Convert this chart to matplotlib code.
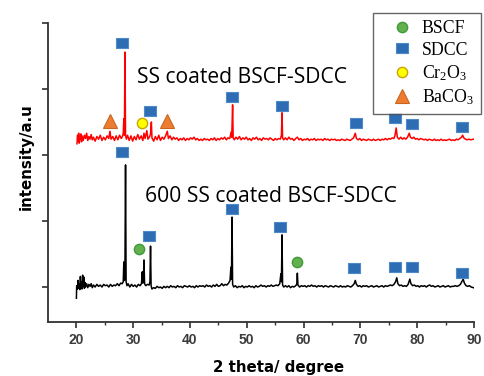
import matplotlib
matplotlib.use("Agg")
import matplotlib.pyplot as plt
from matplotlib.lines import Line2D
from matplotlib.path import Path

plt.rcParams['mathtext.fontset'] = 'custom'
plt.rcParams['mathtext.rm'] = 'Liberation Serif'
plt.rcParams['mathtext.it'] = 'Liberation Serif'

# ---------------- data ----------------
black_2theta = [20.0, 20.05, 20.2, 20.3, 20.4, 20.5, 20.6, 20.7, 20.8, 20.9, 21.0, 21.1, 21.2, 21.3, 21.4, 21.5,
                21.6, 21.8, 22.0, 22.2, 22.4, 22.6, 22.8, 23.0, 23.3, 23.6, 23.9, 24.2, 24.5, 24.8, 25.1, 25.4,
                25.7, 26.0, 26.3, 26.6, 26.9, 27.2, 27.5, 27.8, 28.05, 28.25, 28.35, 28.45, 28.55, 28.65, 28.75,
                28.9, 29.1, 29.4, 29.7, 30.0, 30.3, 30.6, 30.9, 31.2, 31.45, 31.6, 31.7, 31.8, 31.9, 32.0, 32.2,
                32.5, 32.8, 32.95, 33.05, 33.15, 33.3, 33.6, 33.9, 34.2, 34.5, 34.8, 35.1, 35.4, 35.7, 36.0,
                36.3, 36.6, 36.9, 37.2, 37.5, 37.8, 38.1, 38.4, 38.7, 39.0, 39.3, 39.6, 39.9, 40.2, 40.5, 40.8,
                41.1, 41.4, 41.7, 42.0, 42.3, 42.6, 42.9, 43.2, 43.5, 43.8, 44.1, 44.4, 44.7, 45.0, 45.3, 45.6,
                45.9, 46.2, 46.5, 46.8, 47.05, 47.2, 47.3, 47.4, 47.5, 47.7, 48.0, 48.3, 48.6, 48.9, 49.2, 49.5,
                49.8, 50.1, 50.4, 50.7, 51.0, 51.3, 51.6, 51.9, 52.2, 52.5, 52.8, 53.1, 53.4, 53.7, 54.0, 54.3,
                54.6, 54.9, 55.2, 55.5, 55.8, 56.0, 56.1, 56.2, 56.3, 56.5, 56.8, 57.1, 57.4, 57.7, 58.0, 58.3,
                58.6, 58.8, 58.9, 59.0, 59.3, 59.6, 59.9, 60.2, 60.5, 60.8, 61.1, 61.4, 61.7, 62.0, 62.3, 62.6,
                62.9, 63.2, 63.5, 63.8, 64.1, 64.4, 64.7, 65.0, 65.3, 65.6, 65.9, 66.2, 66.5, 66.8, 67.1, 67.4,
                67.7, 68.0, 68.3, 68.6, 68.9, 69.1, 69.3, 69.6, 69.9, 70.2, 70.5, 70.8, 71.1, 71.4, 71.7, 72.0,
                72.3, 72.6, 72.9, 73.2, 73.5, 73.8, 74.1, 74.4, 74.7, 75.0, 75.3, 75.6, 75.9, 76.2, 76.4, 76.6,
                76.9, 77.2, 77.5, 77.8, 78.1, 78.4, 78.6, 78.7, 78.9, 79.2, 79.5, 79.8, 80.1, 80.4, 80.7, 81.0,
                81.3, 81.6, 81.9, 82.2, 82.5, 82.8, 83.1, 83.4, 83.7, 84.0, 84.3, 84.6, 84.9, 85.2, 85.5, 85.8,
                86.1, 86.4, 86.7, 87.0, 87.3, 87.6, 87.9, 88.1, 88.3, 88.6, 88.9, 89.2, 89.5, 89.9]
black_intensity = [-0.17, 0.02, -0.03, 0.10, -0.02, 0.05, -0.04, 0.16, 0.00, 0.08, -0.03, 0.18, 0.01, 0.15, -0.02, 0.07,
                   0.00, 0.05, -0.01, 0.04, 0.01, 0.05, -0.01, 0.03, 0.00, 0.04, 0.01, 0.03, 0.00, 0.04, 0.02, 0.03,
                   0.00, 0.04, 0.01, 0.03, 0.02, 0.05, 0.02, 0.06, 0.05, 0.08, 0.38, 0.10, 0.30, 1.85, 0.08,
                   0.02, 0.05, 0.00, 0.04, 0.01, 0.03, 0.00, 0.04, 0.02, 0.05, 0.23, 0.06, 0.12, 0.41, 0.05, 0.02,
                   0.04, 0.03, 0.08, 0.62, 0.02, -0.03, -0.01, -0.02, 0.01, -0.01, 0.00, -0.02, 0.01, -0.01, 0.01,
                   -0.01, 0.02, 0.00, 0.01, -0.01, 0.02, 0.00, 0.01, -0.01, 0.02, 0.01, 0.00, 0.02, 0.00, 0.01, -0.01,
                   0.02, 0.00, 0.02, 0.01, 0.02, 0.00, 0.03, 0.01, 0.02, 0.00, 0.03, 0.01, 0.04, 0.01, 0.02, 0.05,
                   0.02, 0.04, 0.03, 0.06, 0.10, 0.30, 0.12, 1.06, 0.04, 0.00, 0.02, -0.01, 0.01, 0.00, 0.02, -0.01,
                   0.01, 0.00, 0.02, 0.00, 0.01, -0.01, 0.02, 0.00, 0.01, 0.03, 0.01, 0.02, 0.00, 0.02, 0.01, 0.03,
                   0.01, 0.02, 0.03, 0.02, 0.05, 0.20, 0.08, 0.79, 0.03, 0.00, 0.02, 0.00, 0.02, -0.01, 0.01, 0.00,
                   0.02, 0.04, 0.21, 0.03, 0.00, 0.02, 0.01, 0.02, 0.00, 0.02, 0.01, 0.03, 0.01, 0.02, 0.00, 0.02,
                   0.01, 0.02, 0.00, 0.02, 0.01, 0.00, 0.02, 0.01, 0.00, 0.02, 0.01, 0.00, 0.02, 0.00, 0.01, 0.00,
                   0.02, 0.01, 0.00, 0.02, 0.05, 0.10, 0.04, 0.01, 0.02, 0.00, 0.02, 0.01, 0.02, 0.00, 0.01, 0.02,
                   0.00, 0.01, 0.02, 0.00, 0.01, 0.02, 0.00, 0.02, 0.01, 0.02, 0.03, 0.02, 0.04, 0.08, 0.14, 0.05,
                   0.02, 0.03, 0.01, 0.02, 0.01, 0.04, 0.09, 0.12, 0.05, 0.02, 0.03, 0.01, 0.02, 0.00, 0.02, 0.01,
                   0.02, 0.00, 0.02, 0.03, 0.01, 0.02, 0.00, 0.01, 0.02, 0.00, 0.01, 0.02, 0.00, 0.01, 0.02, 0.00,
                   0.01, 0.01, 0.02, 0.01, 0.02, 0.04, 0.09, 0.12, 0.06, 0.02, 0.01, 0.02, 0.00, -0.01]

red_2theta = [20.1, 20.2, 20.3, 20.4, 20.5, 20.6, 20.7, 20.8, 20.9, 21.0, 21.2, 21.4, 21.6, 21.8, 22.0, 22.2,
              22.4, 22.6, 22.8, 23.0, 23.3, 23.6, 23.9, 24.2, 24.5, 24.8, 25.1, 25.4, 25.7, 25.9, 26.1, 26.4,
              26.7, 27.0, 27.3, 27.6, 27.9, 28.1, 28.25, 28.35, 28.45, 28.55, 28.65, 28.8, 29.0, 29.3, 29.6,
              29.9, 30.2, 30.5, 30.8, 31.1, 31.4, 31.7, 31.9, 32.1, 32.4, 32.6, 32.9, 33.05, 33.2, 33.3, 33.6,
              33.9, 34.2, 34.5, 34.8, 35.1, 35.4, 35.7, 36.0, 36.2, 36.5, 36.8, 37.1, 37.4, 37.7, 38.0, 38.3,
              38.6, 38.9, 39.2, 39.5, 39.8, 40.1, 40.4, 40.7, 41.0, 41.3, 41.6, 41.9, 42.2, 42.5, 42.8, 43.1,
              43.4, 43.7, 44.0, 44.3, 44.6, 44.9, 45.2, 45.5, 45.8, 46.1, 46.4, 46.7, 47.0, 47.25, 47.35, 47.5,
              47.6, 47.8, 48.1, 48.4, 48.7, 49.0, 49.3, 49.6, 49.9, 50.2, 50.5, 50.8, 51.1, 51.4, 51.7, 52.0,
              52.3, 52.6, 52.9, 53.2, 53.5, 53.8, 54.1, 54.4, 54.7, 55.0, 55.3, 55.6, 55.9, 56.1, 56.2, 56.3,
              56.5, 56.8, 57.1, 57.4, 57.7, 58.0, 58.3, 58.6, 58.9, 59.2, 59.5, 59.8, 60.1, 60.4, 60.7, 61.0,
              61.3, 61.6, 61.9, 62.2, 62.5, 62.8, 63.1, 63.4, 63.7, 64.0, 64.3, 64.6, 64.9, 65.2, 65.5, 65.8,
              66.1, 66.4, 66.7, 67.0, 67.3, 67.6, 67.9, 68.2, 68.5, 68.8, 69.1, 69.3, 69.6, 69.9, 70.2, 70.5,
              70.8, 71.1, 71.4, 71.7, 72.0, 72.3, 72.6, 72.9, 73.2, 73.5, 73.8, 74.1, 74.4, 74.7, 75.0, 75.3,
              75.6, 75.9, 76.1, 76.3, 76.5, 76.8, 77.1, 77.4, 77.7, 78.0, 78.3, 78.6, 78.8, 79.1, 79.4, 79.7,
              80.0, 80.3, 80.6, 80.9, 81.2, 81.5, 81.8, 82.1, 82.4, 82.7, 83.0, 83.3, 83.6, 83.9, 84.2, 84.5,
              84.8, 85.1, 85.4, 85.7, 86.0, 86.3, 86.6, 86.9, 87.2, 87.5, 87.8, 88.0, 88.2, 88.5, 88.8, 89.1,
              89.4, 89.9]
red_intensity = [2.17, 2.30, 2.22, 2.33, 2.18, 2.28, 2.24, 2.32, 2.20, 2.29, 2.22, 2.30, 2.25, 2.33, 2.22, 2.28,
                 2.24, 2.31, 2.23, 2.27, 2.21, 2.28, 2.24, 2.30, 2.22, 2.27, 2.23, 2.29, 2.25, 2.36, 2.24, 2.28,
                 2.22, 2.29, 2.23, 2.30, 2.25, 2.28, 2.33, 2.55, 2.30, 3.56, 2.30, 2.24, 2.30, 2.22, 2.29,
                 2.21, 2.28, 2.23, 2.31, 2.24, 2.29, 2.22, 2.33, 2.25, 2.37, 2.24, 2.28, 2.32, 2.50, 2.26, 2.21,
                 2.28, 2.23, 2.30, 2.22, 2.27, 2.24, 2.29, 2.36, 2.25, 2.29, 2.23, 2.27, 2.24, 2.26, 2.22, 2.25,
                 2.23, 2.26, 2.22, 2.25, 2.23, 2.26, 2.24, 2.27, 2.23, 2.25, 2.22, 2.24, 2.22, 2.25, 2.23, 2.24,
                 2.22, 2.25, 2.23, 2.26, 2.22, 2.25, 2.23, 2.26, 2.24, 2.27, 2.23, 2.26, 2.25, 2.35, 2.27, 2.76,
                 2.26, 2.23, 2.27, 2.24, 2.28, 2.23, 2.26, 2.24, 2.27, 2.23, 2.25, 2.22, 2.26, 2.24, 2.27, 2.23,
                 2.25, 2.22, 2.26, 2.24, 2.25, 2.23, 2.26, 2.24, 2.22, 2.25, 2.23, 2.25, 2.24, 2.30, 2.64, 2.26,
                 2.23, 2.26, 2.23, 2.27, 2.24, 2.25, 2.22, 2.25, 2.27, 2.23, 2.25, 2.22, 2.24, 2.23, 2.25, 2.22,
                 2.24, 2.23, 2.25, 2.22, 2.24, 2.23, 2.24, 2.22, 2.25, 2.23, 2.24, 2.22, 2.24, 2.23, 2.24, 2.22,
                 2.23, 2.22, 2.24, 2.23, 2.22, 2.24, 2.23, 2.22, 2.24, 2.26, 2.33, 2.25, 2.23, 2.25, 2.22, 2.24,
                 2.23, 2.22, 2.24, 2.23, 2.22, 2.24, 2.22, 2.23, 2.24, 2.22, 2.24, 2.23, 2.25, 2.23, 2.25, 2.24,
                 2.26, 2.25, 2.30, 2.41, 2.27, 2.24, 2.27, 2.24, 2.26, 2.24, 2.27, 2.33, 2.27, 2.25, 2.27, 2.24,
                 2.25, 2.23, 2.25, 2.24, 2.23, 2.24, 2.22, 2.24, 2.23, 2.22, 2.24, 2.22, 2.23, 2.22, 2.24, 2.22,
                 2.23, 2.22, 2.23, 2.24, 2.22, 2.23, 2.22, 2.24, 2.23, 2.25, 2.27, 2.30, 2.26, 2.24, 2.23, 2.24,
                 2.23, 2.24]

# phase markers
sdcc_black_x = [28.1, 32.8, 47.4, 55.9, 68.9, 76.1, 79.0, 87.8]
sdcc_black_y = [2.05, 0.77, 1.18, 0.91, 0.29, 0.30, 0.30, 0.21]
sdcc_red_x = [28.1, 33.0, 47.4, 56.2, 69.2, 76.1, 79.0, 87.8]
sdcc_red_y = [3.70, 2.67, 2.88, 2.74, 2.48, 2.56, 2.47, 2.43]
bscf_x = [31.1, 58.8]
bscf_y = [0.58, 0.38]
cr2o3_x = [31.6]
cr2o3_y = [2.48]
baco3_x = [26.0, 36.0]
baco3_y = [2.52, 2.52]

x_ticks = [20, 30, 40, 50, 60, 70, 80, 90]
legend_labels = ['BSCF', 'SDCC', 'Cr$_2$O$_3$', 'BaCO$_3$']
label_top = 'SS coated BSCF-SDCC'
label_bottom = '600 SS coated BSCF-SDCC'

# ---------------- styles ----------------
W, H = 485, 376
fig = plt.figure(figsize=(W / 100, H / 100), dpi=100)
ax = fig.add_axes([48 / W, 1 - 322 / H, 426 / W, 299 / H])

rect = Path([(-1, -0.76), (1, -0.76), (1, 0.76), (-1, 0.76), (-1, -0.76)],
            [Path.MOVETO, Path.LINETO, Path.LINETO, Path.LINETO, Path.CLOSEPOLY])
sq_style = dict(marker=rect, ms=8.6, mfc='#2E6DB4', mec='#4F8AC8', mew=0.8, ls='none')
bscf_style = dict(marker='o', ms=7.4, mfc='#62B04E', mec='#3F9A3A', mew=1.0, ls='none')
cr_style = dict(marker='o', ms=7.4, mfc='#FFFF00', mec='#C8A400', mew=1.0, ls='none')
ba_style = dict(marker='^', ms=10.5, mfc='#ED7D31', mec='#C8651E', mew=0.8, ls='none')

ax.plot(black_2theta, black_intensity, color='black', lw=1.1, zorder=2)
ax.plot(red_2theta, red_intensity, color='#FF0000', lw=1.1, zorder=2)

ax.plot(sdcc_black_x, sdcc_black_y, zorder=3, **sq_style)
ax.plot(sdcc_red_x, sdcc_red_y, zorder=3, **sq_style)
ax.plot(bscf_x, bscf_y, zorder=3, **bscf_style)
ax.plot(cr2o3_x, cr2o3_y, zorder=3, **cr_style)
ax.plot(baco3_x, baco3_y, zorder=3, **ba_style)

ax.set_xlim(15, 90)
ax.set_ylim(-0.53, 4.0)
ax.set_xticks(x_ticks)
ax.set_xticks([25, 35, 45, 55, 65, 75, 85], minor=True)
ax.set_yticks([0, 1, 2, 3, 4])
ax.set_yticklabels([])
for side in ['top', 'right']:
    ax.spines[side].set_visible(False)
for side in ['left', 'bottom']:
    ax.spines[side].set_color('#303030')
    ax.spines[side].set_linewidth(1.3)
ax.tick_params(axis='x', which='major', direction='out', length=4, width=1.2, color='#303030',
               labelsize=10, labelcolor='#3C3C3C', pad=4)
ax.tick_params(axis='x', which='minor', direction='out', length=2.5, width=1.0, color='#303030')
ax.tick_params(axis='y', which='major', direction='out', length=4, width=1.2, color='#303030')
for lab in ax.get_xticklabels():
    lab.set_fontfamily('Liberation Sans')
    lab.set_fontweight('bold')

fig.text(137 / W, 1 - 83 / H, label_top, family='Open Sans', fontsize=15.2, va='baseline', ha='left')
fig.text(145 / W, 1 - 202 / H, label_bottom, family='Open Sans', fontsize=15.2, va='baseline', ha='left')

fig.text(279 / W, 1 - 372 / H, '2 theta/ degree', family='DejaVu Sans', fontweight='bold',
         fontsize=10.8, ha='center', va='baseline')
fig.text(26 / W, 1 - 157 / H, 'intensity/a.u', family='DejaVu Sans', fontweight='bold',
         fontsize=10.8, ha='center', va='center', rotation=90)

handles = [Line2D([], [], **bscf_style), Line2D([], [], **sq_style),
           Line2D([], [], **cr_style), Line2D([], [], **ba_style)]
leg = fig.legend(handles, legend_labels, loc='upper left', bbox_to_anchor=(373 / W, 1 - 13 / H),
                 bbox_transform=fig.transFigure, borderaxespad=0, frameon=True, fancybox=False,
                 prop={'family': 'Liberation Serif', 'size': 12.8}, borderpad=0.4, labelspacing=0.25,
                 handlelength=2.5, handletextpad=-0.15, numpoints=1)
leg.get_frame().set_edgecolor('#404040')
leg.get_frame().set_linewidth(1.0)

fig.savefig('out.png', dpi=100)
